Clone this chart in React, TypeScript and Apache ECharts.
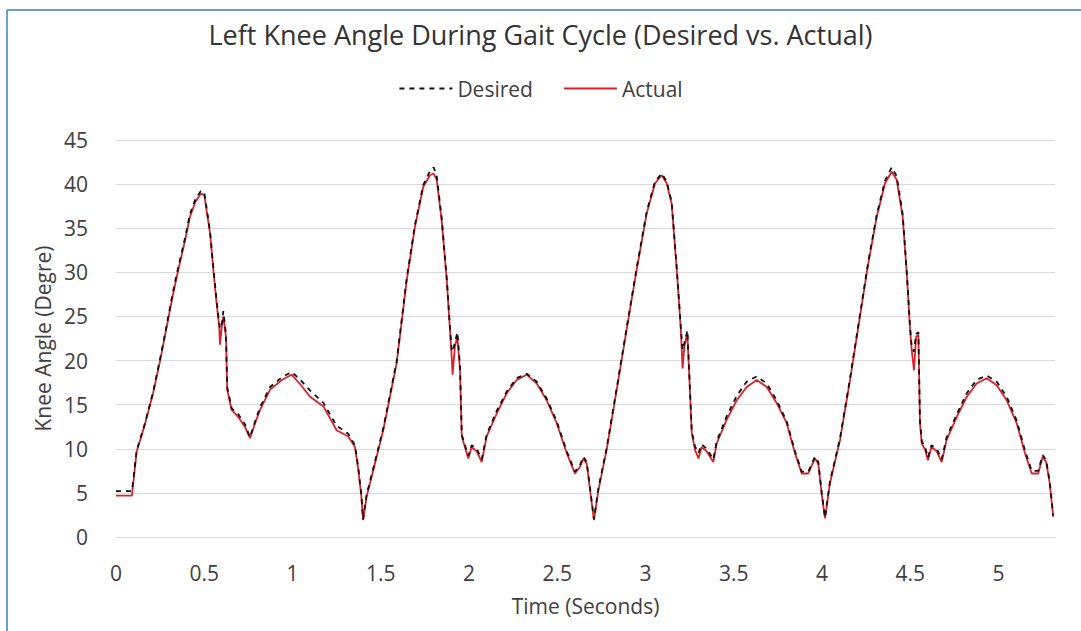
import React, { useEffect, useRef } from "react";
import * as echarts from "echarts";

const timeSec = [
  0, 0.09, 0.1, 0.117, 0.16, 0.21, 0.25, 0.287, 0.32, 0.353, 0.39, 0.419, 0.45, 0.48, 0.5, 0.533, 0.555, 0.57, 0.585, 0.589,
  0.6, 0.608, 0.623, 0.63, 0.655, 0.693, 0.73, 0.759, 0.79, 0.816, 0.873, 0.939, 0.995, 1.04, 1.1, 1.175, 1.25, 1.316, 1.354, 1.373,
  1.39, 1.4, 1.42, 1.458, 1.514, 1.59, 1.647, 1.694, 1.741, 1.779, 1.8, 1.817, 1.845, 1.874, 1.892, 1.902, 1.907, 1.92, 1.934, 1.949,
  1.959, 1.977, 1.996, 2.015, 2.044, 2.072, 2.1, 2.157, 2.214, 2.27, 2.327, 2.384, 2.44, 2.497, 2.554, 2.6, 2.63, 2.648, 2.667, 2.686,
  2.708, 2.733, 2.78, 2.837, 2.893, 2.95, 3.007, 3.054, 3.092, 3.12, 3.148, 3.177, 3.2, 3.21, 3.22, 3.237, 3.248, 3.262, 3.28, 3.3,
  3.318, 3.347, 3.384, 3.403, 3.46, 3.517, 3.573, 3.63, 3.687, 3.743, 3.8, 3.847, 3.885, 3.922, 3.96, 3.979, 3.998, 4.017, 4.045, 4.102,
  4.159, 4.215, 4.262, 4.31, 4.357, 4.395, 4.423, 4.457, 4.48, 4.499, 4.508, 4.521, 4.533, 4.546, 4.555, 4.565, 4.584, 4.6, 4.62, 4.65,
  4.678, 4.706, 4.763, 4.82, 4.876, 4.933, 4.99, 5.046, 5.103, 5.15, 5.188, 5.225, 5.25, 5.27, 5.29, 5.31,
];

const actualDeg = [
  4.7, 4.7, 6.5, 9.7, 12.5, 16.3, 20.0, 23.8, 27.2, 30.3, 33.5, 36.3, 38.0, 38.9, 38.8, 34.4, 29.5, 26.5, 23.8, 21.8,
  24.0, 25.0, 22.7, 16.7, 14.4, 13.6, 12.5, 11.2, 13.0, 14.4, 16.7, 17.8, 18.4, 17.4, 15.9, 14.8, 12.1, 11.4, 10.2, 7.6,
  4.6, 1.9, 4.6, 7.6, 12.1, 19.7, 29.1, 35.2, 39.7, 41.0, 41.2, 40.5, 35.9, 29.1, 23.5, 20.4, 18.4, 21.6, 22.7, 18.9,
  11.4, 10.2, 8.9, 10.2, 9.7, 8.5, 11.4, 14.0, 16.3, 17.8, 18.4, 17.4, 15.5, 12.9, 9.5, 7.2, 8.0, 8.9, 8.3, 5.3,
  1.9, 5.3, 9.9, 16.7, 23.5, 30.3, 36.7, 40.1, 41.0, 40.1, 37.8, 30.3, 23.5, 19.1, 21.6, 23.1, 18.2, 11.8, 9.9, 8.9,
  10.2, 9.7, 8.5, 10.6, 13.3, 15.5, 17.0, 17.8, 17.0, 15.2, 12.9, 9.5, 7.2, 7.2, 8.9, 8.3, 4.9, 2.1, 6.1, 11.0,
  17.8, 25.0, 31.0, 36.3, 40.1, 41.4, 40.5, 36.3, 29.9, 23.5, 21.2, 18.9, 22.7, 22.9, 12.9, 10.6, 9.9, 8.7, 10.2, 9.7,
  8.5, 11.0, 13.6, 15.9, 17.4, 18.0, 17.2, 15.5, 12.9, 9.5, 7.2, 7.2, 9.1, 8.5, 6.1, 2.3,
];

const desiredDeg = [
  5.2, 5.2, 6.8, 9.8, 12.6, 16.4, 20.2, 24.0, 27.5, 30.6, 33.8, 36.6, 38.3, 39.2, 39.1, 34.6, 29.8, 26.8, 24.2, 23.6,
  24.2, 25.6, 23.0, 17.0, 14.6, 13.9, 12.8, 11.3, 13.2, 14.7, 17.0, 18.1, 18.7, 17.9, 16.6, 15.2, 12.6, 11.7, 10.4, 7.8,
  4.8, 2.0, 4.8, 7.8, 12.3, 19.9, 29.3, 35.4, 39.9, 41.5, 41.9, 40.9, 36.2, 29.3, 23.8, 21.2, 21.0, 22.0, 23.2, 19.4,
  11.6, 10.4, 9.2, 10.4, 10.0, 8.8, 11.6, 14.3, 16.5, 18.0, 18.5, 17.6, 15.7, 13.1, 9.7, 7.4, 8.2, 9.1, 8.5, 5.5,
  2.0, 5.5, 10.1, 16.9, 23.7, 30.5, 36.9, 40.3, 41.2, 40.3, 38.0, 30.5, 23.8, 21.2, 22.0, 23.4, 18.6, 12.0, 10.3, 9.5,
  10.5, 10.0, 8.8, 10.8, 13.7, 16.0, 17.6, 18.2, 17.4, 15.5, 13.1, 9.7, 7.4, 7.4, 9.1, 8.5, 5.1, 2.2, 6.3, 11.2,
  18.0, 25.2, 31.2, 36.5, 40.4, 41.9, 40.9, 36.6, 30.1, 23.8, 21.6, 21.0, 23.0, 23.2, 13.2, 10.9, 10.2, 9.0, 10.4, 10.0,
  8.8, 11.3, 13.9, 16.3, 17.8, 18.3, 17.6, 15.9, 13.2, 9.8, 7.5, 7.5, 9.3, 8.7, 6.3, 2.4,
];

const titleText = "Left Knee Angle During Gait Cycle (Desired vs. Actual)";
const seriesNames = ["Desired", "Actual"];
const xAxisName = "Time (Seconds)";
const yAxisName = "Knee Angle (Degre)";

const FONT = "'Open Sans', 'Noto Sans', sans-serif";
const TEXT = "#404040";

export default function App() {
  const ref = useRef<HTMLDivElement>(null);

  useEffect(() => {
    if (!ref.current) return;
    const chart = echarts.init(ref.current, null, { renderer: "svg" });
    const desiredData = timeSec.map((t, i) => [t, desiredDeg[i]]);
    const actualData = timeSec.map((t, i) => [t, actualDeg[i]]);

    chart.setOption({
      animation: false,
      backgroundColor: "#ffffff",
      textStyle: { fontFamily: FONT },
      title: {
        text: titleText,
        left: "center",
        top: 16,
        textStyle: { fontFamily: FONT, fontSize: 27, fontWeight: "normal", color: "#333333" },
      },
      legend: {
        top: 73,
        left: "center",
        itemWidth: 53,
        itemHeight: 14,
        itemGap: 30,
        itemStyle: { opacity: 0 },
        textStyle: { fontFamily: FONT, fontSize: 21, color: TEXT },
        data: seriesNames,
      },
      grid: { left: 116, right: 26, top: 140, bottom: 94 },
      xAxis: {
        type: "value",
        min: 0,
        max: 5.32,
        interval: 0.5,
        name: xAxisName,
        nameLocation: "middle",
        nameGap: 58,
        nameTextStyle: { fontFamily: FONT, fontSize: 21, color: TEXT },
        axisLine: { show: true, lineStyle: { color: "#d9d9d9", width: 1 } },
        axisTick: { show: false },
        splitLine: { show: false },
        axisLabel: {
          showMaxLabel: false,
          margin: 25,
          fontFamily: FONT,
          fontSize: 21,
          color: TEXT,
        },
      },
      yAxis: {
        type: "value",
        min: 0,
        max: 45,
        interval: 5,
        name: yAxisName,
        nameLocation: "middle",
        nameGap: 60,
        nameTextStyle: { fontFamily: FONT, fontSize: 21, color: TEXT },
        axisLine: { show: false },
        axisTick: { show: false },
        splitLine: { show: true, lineStyle: { color: "#d9d9d9", width: 1 } },
        axisLabel: { margin: 28, fontFamily: FONT, fontSize: 21, color: TEXT },
      },
      graphic: [
        { type: "line", shape: { x1: 7, y1: 10, x2: 1081, y2: 10 }, style: { stroke: "#6f9bd8", lineWidth: 2 } },
        { type: "line", shape: { x1: 7, y1: 10, x2: 7, y2: 631 }, style: { stroke: "#6f9bd8", lineWidth: 2 } },
      ],
      series: [
        {
          name: seriesNames[1],
          type: "line",
          data: actualData,
          symbol: "none",
          z: 2,
          lineStyle: { color: "#dc2028", width: 1.8 },
          itemStyle: { color: "#dc2028" },
        },
        {
          name: seriesNames[0],
          type: "line",
          data: desiredData,
          symbol: "none",
          z: 3,
          lineStyle: { color: "#111111", width: 1.8, type: [5, 5] },
          itemStyle: { color: "#111111" },
        },
      ],
    });
    return () => chart.dispose();
  }, []);

  return (
    <div
      ref={ref}
      style={{ position: "fixed", left: 0, top: 0, width: 1081, height: 631 }}
    />
  );
}
